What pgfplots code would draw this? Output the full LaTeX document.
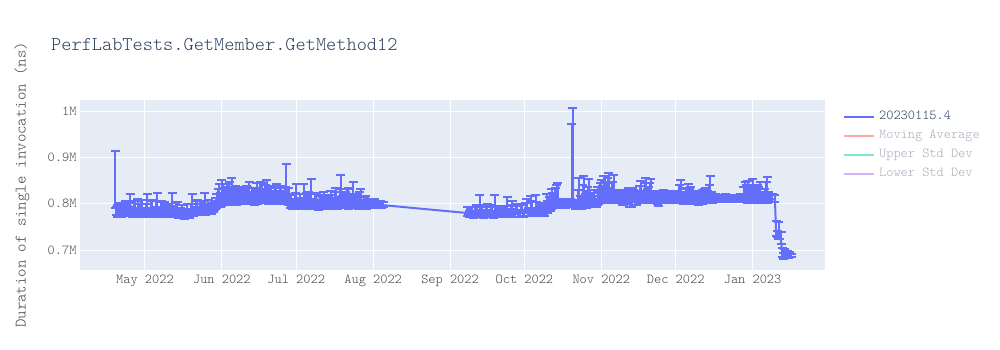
\documentclass[border=0pt]{standalone}
\usepackage{pgfplots}
\usepackage{pgfplotstable}
\pgfplotsset{compat=1.18}
\usepackage{fontspec}
\setmainfont{Latin Modern Mono Light}
\definecolor{bg}{HTML}{E5ECF6}
\definecolor{c1}{HTML}{636EFA}
\definecolor{c2}{HTML}{EF553B}
\definecolor{c3}{HTML}{00CC96}
\definecolor{c4}{HTML}{AB63FA}
\definecolor{txt}{HTML}{2A3F5F}
\definecolor{tick}{HTML}{444444}
\definecolor{hid}{HTML}{A6AEBA}

\pgfplotstableread{
d y ep em
-12 0.800 0.114 0.010
-11.5 0.784 0.010 0.008
-11 0.778 0.020 0.006
-10.5 0.786 0.008 0.010
-10 0.790 0.012 0.008
-9.5 0.777 0.015 0.005
-9 0.782 0.018 0.006
-8.5 0.788 0.012 0.009
-8 0.795 0.010 0.010
-7.5 0.779 0.020 0.006
-7 0.780 0.015 0.006
-6.5 0.791 0.010 0.010
-6 0.786 0.035 0.008
-5.5 0.781 0.012 0.006
-5 0.776 0.014 0.004
-4.5 0.785 0.020 0.008
-4 0.792 0.013 0.010
-3.5 0.777 0.010 0.005
-3 0.781 0.030 0.006
-2.5 0.787 0.012 0.009
-2 0.778 0.010 0.005
-1.5 0.783 0.025 0.007
-1 0.788 0.020 0.008
-0.5 0.776 0.012 0.005
0 0.779 0.012 0.006
0.5 0.789 0.010 0.009
1 0.784 0.038 0.007
1.5 0.778 0.012 0.006
2 0.776 0.015 0.005
2.5 0.786 0.020 0.008
3 0.790 0.018 0.009
3.5 0.777 0.010 0.005
4 0.781 0.012 0.006
4.5 0.791 0.015 0.010
5 0.787 0.036 0.008
5.5 0.779 0.012 0.006
6 0.777 0.016 0.005
6.5 0.785 0.020 0.008
7 0.793 0.010 0.010
7.5 0.776 0.015 0.005
8 0.780 0.024 0.006
8.5 0.788 0.010 0.008
9 0.785 0.014 0.007
9.5 0.777 0.018 0.005
10 0.776 0.020 0.005
10.5 0.784 0.012 0.008
11 0.789 0.034 0.009
11.5 0.778 0.010 0.006
12 0.779 0.012 0.006
12.5 0.787 0.015 0.008
13 0.786 0.018 0.007
13.5 0.775 0.012 0.005
14 0.775 0.010 0.005
14.5 0.781 0.010 0.006
15 0.782 0.015 0.006
15.5 0.773 0.008 0.004
16 0.772 0.012 0.004
16.5 0.778 0.010 0.006
17 0.779 0.020 0.006
17.5 0.774 0.012 0.005
18 0.775 0.014 0.005
18.5 0.782 0.018 0.007
19 0.785 0.036 0.008
19.5 0.779 0.010 0.006
20 0.781 0.012 0.006
20.5 0.787 0.020 0.008
21 0.790 0.018 0.009
21.5 0.782 0.012 0.006
22 0.784 0.022 0.007
22.5 0.789 0.010 0.009
23 0.792 0.015 0.010
23.5 0.784 0.022 0.006
24 0.786 0.038 0.008
24.5 0.781 0.012 0.006
25 0.783 0.012 0.006
25.5 0.788 0.020 0.008
26 0.790 0.010 0.008
26.5 0.783 0.015 0.006
27 0.785 0.016 0.007
27.5 0.791 0.010 0.008
28 0.795 0.012 0.009
28.5 0.797 0.015 0.009
29 0.800 0.020 0.010
29.5 0.806 0.025 0.010
30 0.810 0.032 0.012
30.5 0.804 0.020 0.010
31 0.806 0.045 0.010
31.5 0.812 0.030 0.010
32 0.815 0.020 0.012
32.5 0.807 0.025 0.010
33 0.808 0.035 0.010
33.5 0.816 0.020 0.012
34 0.818 0.030 0.012
34.5 0.808 0.025 0.010
35 0.810 0.045 0.010
35.5 0.815 0.020 0.010
36 0.812 0.018 0.008
36.5 0.809 0.030 0.010
37 0.806 0.025 0.008
37.5 0.813 0.020 0.010
38 0.814 0.015 0.010
38.5 0.807 0.022 0.008
39 0.808 0.022 0.008
39.5 0.815 0.018 0.010
40 0.816 0.020 0.010
40.5 0.808 0.025 0.008
41 0.810 0.028 0.009
41.5 0.816 0.020 0.010
42 0.812 0.035 0.010
42.5 0.807 0.018 0.008
43 0.818 0.015 0.010
43.5 0.810 0.025 0.008
44 0.806 0.020 0.008
44.5 0.813 0.022 0.010
45 0.815 0.030 0.010
45.5 0.808 0.020 0.008
46 0.809 0.018 0.008
46.5 0.817 0.030 0.010
47 0.820 0.025 0.012
47.5 0.810 0.020 0.008
48 0.811 0.015 0.008
48.5 0.816 0.025 0.010
49 0.814 0.038 0.010
49.5 0.809 0.022 0.008
50 0.808 0.020 0.008
50.5 0.815 0.018 0.010
51 0.816 0.022 0.010
51.5 0.808 0.020 0.008
52 0.810 0.015 0.008
52.5 0.814 0.025 0.010
53 0.815 0.028 0.010
53.5 0.808 0.015 0.008
54 0.807 0.020 0.008
54.5 0.812 0.022 0.010
55 0.813 0.025 0.010
55.5 0.808 0.020 0.008
56 0.809 0.018 0.008
56.5 0.812 0.025 0.010
57 0.815 0.070 0.010
57.5 0.808 0.025 0.008
58 0.805 0.030 0.008
58.5 0.799 0.020 0.008
59 0.800 0.020 0.008
59.5 0.794 0.012 0.006
60 0.796 0.015 0.006
60.5 0.801 0.022 0.008
61 0.802 0.040 0.008
61.5 0.796 0.015 0.006
62 0.795 0.018 0.006
62.5 0.801 0.020 0.008
63 0.800 0.012 0.008
63.5 0.794 0.015 0.006
64 0.797 0.045 0.006
64.5 0.802 0.018 0.008
65 0.803 0.020 0.008
65.5 0.796 0.025 0.006
66 0.794 0.032 0.006
66.5 0.800 0.020 0.008
67 0.801 0.052 0.008
67.5 0.795 0.015 0.006
68 0.796 0.015 0.006
68.5 0.801 0.022 0.008
69 0.799 0.025 0.007
69.5 0.794 0.015 0.006
70 0.793 0.012 0.006
70.5 0.799 0.018 0.008
71 0.800 0.018 0.008
71.5 0.795 0.020 0.006
72 0.796 0.030 0.006
72.5 0.801 0.015 0.008
73 0.802 0.015 0.008
73.5 0.796 0.022 0.006
74 0.795 0.020 0.006
74.5 0.800 0.018 0.008
75 0.799 0.028 0.007
75.5 0.795 0.015 0.006
76 0.794 0.012 0.006
76.5 0.801 0.025 0.008
77 0.800 0.035 0.008
77.5 0.795 0.018 0.006
78 0.796 0.018 0.006
78.5 0.802 0.030 0.008
79 0.803 0.060 0.008
79.5 0.796 0.020 0.006
80 0.797 0.015 0.006
80.5 0.802 0.020 0.008
81 0.801 0.025 0.008
81.5 0.796 0.035 0.006
82 0.795 0.040 0.006
82.5 0.801 0.015 0.008
83 0.802 0.020 0.008
83.5 0.796 0.025 0.006
84 0.798 0.050 0.007
84.5 0.801 0.020 0.008
85 0.800 0.015 0.008
85.5 0.796 0.018 0.006
86 0.795 0.022 0.006
86.5 0.800 0.025 0.008
87 0.801 0.030 0.008
87.5 0.796 0.012 0.006
88 0.797 0.012 0.006
88.5 0.800 0.015 0.007
89 0.799 0.018 0.007
89.5 0.795 0.012 0.006
90 0.796 0.015 0.006
90.5 0.799 0.012 0.007
91 0.800 0.010 0.007
91.5 0.796 0.010 0.006
92 0.797 0.012 0.006
92.5 0.800 0.010 0.007
93 0.799 0.008 0.006
93.5 0.795 0.010 0.005
94 0.796 0.010 0.005
94.5 0.799 0.008 0.006
95 0.798 0.008 0.006
95.5 0.796 0.008 0.005
96 0.797 0.006 0.005
130 0.780 0.012 0.006
130.5 0.784 0.010 0.006
131 0.776 0.008 0.005
131.5 0.781 0.012 0.006
132 0.783 0.010 0.006
132.5 0.775 0.010 0.005
133 0.777 0.015 0.005
133.5 0.786 0.012 0.006
134 0.785 0.008 0.006
134.5 0.776 0.010 0.005
135 0.778 0.040 0.005
135.5 0.784 0.012 0.006
136 0.782 0.012 0.006
136.5 0.775 0.010 0.005
137 0.776 0.010 0.005
137.5 0.785 0.012 0.006
138 0.784 0.015 0.006
138.5 0.777 0.010 0.005
139 0.775 0.008 0.004
139.5 0.783 0.015 0.006
140 0.781 0.012 0.006
140.5 0.775 0.010 0.005
141 0.777 0.042 0.005
141.5 0.784 0.012 0.006
142 0.786 0.010 0.006
142.5 0.777 0.012 0.005
143 0.776 0.015 0.005
143.5 0.785 0.010 0.006
144 0.782 0.008 0.006
144.5 0.776 0.012 0.005
145 0.777 0.012 0.005
145.5 0.784 0.012 0.006
146 0.785 0.030 0.006
146.5 0.777 0.010 0.005
147 0.778 0.010 0.005
147.5 0.786 0.012 0.006
148 0.783 0.022 0.006
148.5 0.776 0.012 0.005
149 0.776 0.008 0.005
149.5 0.785 0.015 0.006
150 0.784 0.012 0.006
150.5 0.776 0.010 0.005
151 0.777 0.010 0.005
151.5 0.786 0.012 0.006
152 0.785 0.015 0.006
152.5 0.777 0.010 0.005
153 0.778 0.008 0.005
153.5 0.786 0.015 0.006
154 0.786 0.025 0.006
154.5 0.778 0.012 0.005
155 0.779 0.012 0.005
155.5 0.787 0.030 0.006
156 0.787 0.020 0.006
156.5 0.779 0.012 0.005
157 0.780 0.010 0.005
157.5 0.788 0.030 0.006
158 0.788 0.015 0.006
158.5 0.779 0.012 0.005
159 0.781 0.008 0.005
159.5 0.787 0.012 0.006
160 0.786 0.010 0.006
160.5 0.780 0.012 0.005
161 0.779 0.012 0.005
161.5 0.786 0.015 0.006
162 0.787 0.035 0.006
162.5 0.785 0.020 0.006
163 0.790 0.025 0.006
163.5 0.792 0.030 0.007
164 0.796 0.035 0.007
164.5 0.799 0.025 0.008
165 0.800 0.022 0.008
165.5 0.803 0.030 0.008
166 0.805 0.035 0.008
166.5 0.800 0.045 0.008
167 0.798 0.012 0.006
167.5 0.796 0.010 0.006
168 0.797 0.008 0.006
168.5 0.799 0.010 0.006
169 0.800 0.010 0.006
169.5 0.797 0.008 0.006
170 0.797 0.008 0.005
170.5 0.800 0.010 0.006
171 0.799 0.012 0.006
171.5 0.801 0.010 0.006
172 0.802 0.170 0.008
172.5 0.806 0.200 0.008
173 0.799 0.010 0.006
173.5 0.795 0.012 0.006
174 0.796 0.010 0.006
174.5 0.799 0.030 0.008
175 0.800 0.055 0.008
175.5 0.796 0.020 0.006
176 0.795 0.020 0.006
176.5 0.800 0.040 0.008
177 0.801 0.058 0.008
177.5 0.796 0.025 0.006
178 0.797 0.030 0.006
178.5 0.802 0.035 0.008
179 0.803 0.050 0.008
179.5 0.798 0.020 0.006
180 0.798 0.015 0.006
180.5 0.803 0.020 0.008
181 0.805 0.025 0.008
181.5 0.801 0.015 0.006
182 0.800 0.010 0.006
182.5 0.806 0.030 0.008
183 0.808 0.020 0.008
183.5 0.810 0.035 0.008
184 0.812 0.040 0.008
184.5 0.809 0.030 0.008
185 0.810 0.050 0.008
185.5 0.813 0.035 0.010
186 0.815 0.030 0.010
186.5 0.810 0.045 0.008
187 0.812 0.055 0.008
187.5 0.809 0.025 0.008
188 0.809 0.020 0.008
188.5 0.813 0.035 0.008
189 0.814 0.048 0.008
189.5 0.810 0.020 0.008
190 0.811 0.015 0.008
190.5 0.814 0.015 0.010
191 0.816 0.012 0.010
191.5 0.811 0.018 0.008
192 0.810 0.020 0.008
192.5 0.807 0.012 0.010
193 0.808 0.015 0.010
193.5 0.812 0.015 0.008
194 0.813 0.010 0.008
194.5 0.809 0.020 0.010
195 0.810 0.025 0.010
195.5 0.805 0.018 0.012
196 0.806 0.020 0.012
196.5 0.811 0.022 0.008
197 0.812 0.018 0.008
197.5 0.808 0.012 0.010
198 0.808 0.010 0.010
198.5 0.812 0.012 0.008
199 0.811 0.015 0.008
199.5 0.809 0.030 0.008
200 0.809 0.040 0.008
200.5 0.812 0.015 0.008
201 0.813 0.012 0.008
201.5 0.810 0.035 0.008
202 0.810 0.045 0.008
202.5 0.812 0.020 0.010
203 0.812 0.025 0.010
203.5 0.809 0.035 0.008
204 0.809 0.045 0.008
204.5 0.811 0.012 0.008
205 0.811 0.010 0.008
205.5 0.812 0.012 0.008
206 0.813 0.015 0.008
206.5 0.809 0.010 0.010
207 0.808 0.012 0.012
207.5 0.810 0.010 0.008
208 0.811 0.010 0.008
208.5 0.810 0.015 0.008
209 0.810 0.020 0.008
209.5 0.811 0.010 0.008
210 0.812 0.012 0.008
210.5 0.810 0.015 0.008
211 0.809 0.018 0.008
211.5 0.811 0.010 0.008
212 0.811 0.010 0.008
212.5 0.810 0.008 0.008
213 0.810 0.008 0.008
213.5 0.811 0.012 0.008
214 0.812 0.015 0.010
214.5 0.810 0.010 0.008
215 0.809 0.010 0.008
215.5 0.811 0.030 0.008
216 0.811 0.040 0.008
216.5 0.809 0.015 0.008
217 0.808 0.012 0.008
217.5 0.811 0.015 0.008
218 0.812 0.020 0.008
218.5 0.810 0.025 0.010
219 0.810 0.032 0.010
219.5 0.811 0.020 0.008
220 0.811 0.025 0.008
220.5 0.810 0.012 0.008
221 0.809 0.010 0.008
221.5 0.811 0.012 0.008
222 0.812 0.015 0.008
222.5 0.809 0.010 0.010
223 0.808 0.010 0.010
223.5 0.810 0.012 0.008
224 0.811 0.012 0.008
224.5 0.810 0.018 0.010
225 0.810 0.020 0.010
225.5 0.811 0.020 0.008
226 0.812 0.022 0.008
226.5 0.810 0.015 0.008
227 0.809 0.018 0.008
227.5 0.811 0.030 0.010
228 0.812 0.048 0.010
228.5 0.810 0.015 0.008
229 0.810 0.012 0.008
229.5 0.811 0.010 0.008
230 0.811 0.010 0.008
230.5 0.810 0.008 0.006
231 0.809 0.008 0.006
231.5 0.810 0.006 0.006
232 0.811 0.006 0.006
232.5 0.810 0.008 0.006
233 0.810 0.008 0.006
233.5 0.811 0.008 0.006
234 0.812 0.010 0.006
234.5 0.811 0.008 0.006
235 0.810 0.006 0.006
235.5 0.811 0.006 0.006
236 0.811 0.008 0.006
236.5 0.810 0.006 0.006
237 0.809 0.006 0.006
237.5 0.810 0.006 0.006
238 0.811 0.008 0.006
238.5 0.810 0.006 0.006
239 0.810 0.006 0.006
239.5 0.811 0.008 0.006
240 0.812 0.010 0.006
240.5 0.811 0.008 0.006
241 0.810 0.006 0.006
241.5 0.811 0.025 0.006
242 0.813 0.035 0.006
242.5 0.811 0.030 0.008
243 0.810 0.040 0.008
243.5 0.811 0.025 0.008
244 0.812 0.020 0.008
244.5 0.810 0.030 0.008
245 0.809 0.045 0.008
245.5 0.811 0.020 0.008
246 0.812 0.015 0.008
246.5 0.810 0.025 0.008
247 0.810 0.030 0.008
247.5 0.811 0.025 0.008
248 0.811 0.035 0.008
248.5 0.810 0.015 0.008
249 0.809 0.010 0.008
249.5 0.811 0.012 0.008
250 0.812 0.020 0.008
250.5 0.811 0.035 0.008
251 0.810 0.048 0.008
251.5 0.811 0.015 0.008
252 0.811 0.010 0.008
253 0.810 0.010 0.006
254 0.810 0.008 0.006
254.5 0.735 0.028 0.004
255 0.733 0.008 0.004
255.5 0.730 0.030 0.006
256 0.728 0.010 0.004
256.5 0.720 0.020 0.006
257 0.690 0.015 0.005
257.5 0.685 0.008 0.004
258 0.692 0.010 0.006
258.5 0.687 0.006 0.004
259 0.689 0.008 0.005
259.5 0.686 0.005 0.004
260 0.690 0.006 0.005
260.5 0.688 0.004 0.004
}\perfdata

\begin{document}
\begin{tikzpicture}[x=1pt,y=1pt]
\path[use as bounding box] (0,0) rectangle (1000,350);
\node[anchor=west, text=txt, font=\fontsize{19.4}{22}\selectfont, inner sep=0pt] at (51,305) {PerfLabTests.GetMember.GetMethod12};
\node[rotate=90, text=tick, font=\fontsize{16}{18}\selectfont, inner sep=0pt] at (22,165) {Duration of single invocation (ns)};
\begin{axis}[
  at={(80pt,80pt)}, anchor=south west,
  width=745pt, height=170pt, scale only axis,
  axis background/.style={fill=bg},
  axis line style={draw=none},
  xmin=-26.2, xmax=274.2, ymin=0.657, ymax=1.024,
  xtick={0,31,61,92,123,153,184,214,245},
  xticklabels={May 2022,Jun 2022,Jul 2022,Aug 2022,Sep 2022,Oct 2022,Nov 2022,Dec 2022,Jan 2023},
  ytick={0.7,0.8,0.9,1.0},
  yticklabels={0.7M,0.8M,0.9M,1M},
  grid=major,
  major grid style={white, line width=1pt},
  major tick length=0pt,
  tick label style={font=\fontsize{13.7}{15}\selectfont, text=tick},
  xticklabel style={yshift=-2pt, text height=8pt, text depth=2pt},
  yticklabel style={xshift=0pt},
  legend style={at={(rel axis cs:1.02,0.964)}, anchor=north west, draw=none, fill=none,
    font=\fontsize{13.7}{15}\selectfont, text=txt, row sep=2pt, column sep=1.5pt,
    nodes={inner sep=2.5pt, text height=9pt, text depth=3pt}},
  legend cell align=left,
  legend image code/.code={\draw[#1, line width=2pt] (0pt,0pt) -- (30pt,0pt);},
]
\addplot[color=c1, line width=2pt, line join=round,
  error bars/.cd, y dir=both, y explicit,
  error bar style={line width=2pt, color=c1},
  error mark options={rotate=90, mark size=4.5pt, line width=2pt, color=c1}]
  table[x=d, y=y, y error plus=ep, y error minus=em] {\perfdata};
\addlegendentry{20230115.4}
\addlegendimage{color=c2!50!white}
\addlegendentry{\textcolor{hid}{Moving Average}}
\addlegendimage{color=c3!50!white}
\addlegendentry{\textcolor{hid}{Upper Std Dev}}
\addlegendimage{color=c4!50!white}
\addlegendentry{\textcolor{hid}{Lower Std Dev}}
\end{axis}
\end{tikzpicture}
\end{document}
